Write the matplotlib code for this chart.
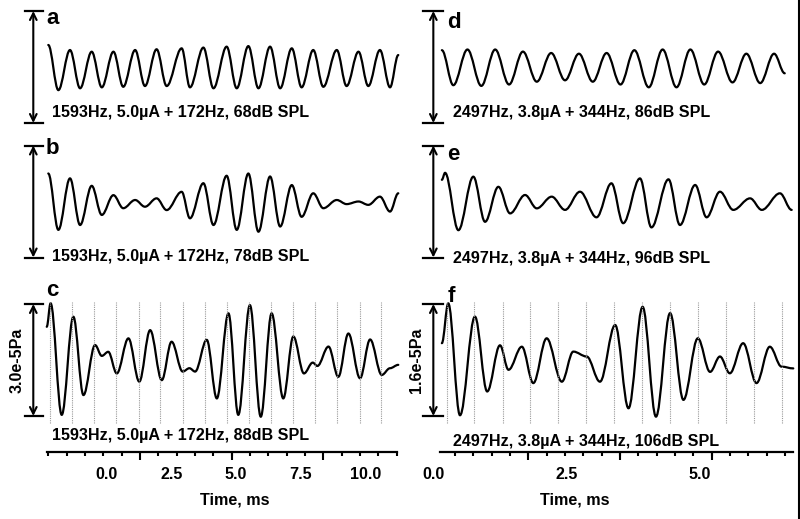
import numpy as np
import matplotlib
matplotlib.use("Agg")
import matplotlib.pyplot as plt
from matplotlib.path import Path
from matplotlib.patches import PathPatch
from matplotlib.lines import Line2D

plt.rcParams["font.family"] = ["Liberation Sans", "DejaVu Sans"]
plt.rcParams["font.weight"] = "bold"

# ---- data: waveform extrema (time in ms, pressure in 1e-5 Pa)
t_ab = [-2.26, -1.87, -1.42, -1.03, -0.58, -0.19, 0.26, 0.64, 1.10, 1.48, 1.93,
        2.32, 2.90, 3.22, 3.74, 4.13, 4.64, 5.03, 5.48, 5.87, 6.32, 6.71, 7.16,
        7.54, 7.99, 8.38, 8.90, 9.28, 9.74, 10.12, 10.57, 10.96, 11.28]
wave_a = [0.59, -0.62, 0.455, -0.57, 0.41, -0.545, 0.41, -0.53, 0.455, -0.51, 0.475,
          -0.51, 0.5, -0.545, 0.52, -0.57, 0.545, -0.57, 0.56, -0.57, 0.545, -0.57,
          0.5, -0.545, 0.455, -0.53, 0.455, -0.51, 0.41, -0.51, 0.455, -0.545, 0.32]
wave_b = [0.75, -0.76, 0.62, -0.63, 0.42, -0.36, 0.17, -0.18, 0.04, -0.14, 0.085,
          -0.23, 0.26, -0.45, 0.49, -0.63, 0.69, -0.76, 0.75, -0.81, 0.67, -0.67,
          0.44, -0.41, 0.22, -0.18, 0.04, -0.07, 0.0, -0.09, 0.13, -0.27, 0.22]
t_c = [-2.32, -2.17, -1.74, -1.29, -0.90, -0.45, -0.19, 0.06, 0.39, 0.84, 1.26,
       1.68, 2.13, 2.51, 2.94, 3.20, 3.42, 3.87, 4.26, 4.71, 5.09, 5.54, 5.96,
       6.38, 6.83, 7.22, 7.63, 7.97, 8.15, 8.58, 8.96, 9.35, 9.80, 10.19, 10.64,
       10.96, 11.28]
wave_c = [0.89, 1.52, -1.47, 1.16, -0.94, 0.40, 0.11, 0.22, -0.36, 0.58, -0.58,
          0.80, -0.54, 0.49, -0.31, -0.22, -0.31, 0.54, -1.03, 1.25, -1.47, 1.47,
          -1.52, 1.25, -1.03, 0.63, -0.36, -0.07, -0.16, 0.36, -0.45, 0.71, -0.49,
          0.55, -0.40, -0.22, -0.13]
t_d = [0.16, 0.375, 0.64, 0.90, 1.16, 1.42, 1.68, 1.94, 2.21, 2.47, 2.73, 2.99,
       3.25, 3.51, 3.77, 4.04, 4.30, 4.56, 4.82, 5.08, 5.34, 5.61, 5.87, 6.13,
       6.39, 6.59]
wave_d = [0.24, -0.26, 0.25, -0.27, 0.25, -0.25, 0.22, -0.21, 0.20, -0.19, 0.19,
          -0.21, 0.20, -0.25, 0.24, -0.29, 0.25, -0.29, 0.25, -0.25, 0.22, -0.22,
          0.19, -0.23, 0.19, -0.09]
t_e = [0.16, 0.22, 0.47, 0.75, 0.97, 1.22, 1.44, 1.72, 1.94, 2.22, 2.47, 2.75,
       3.06, 3.34, 3.56, 3.875, 4.09, 4.41, 4.625, 4.91, 5.125, 5.375, 5.625, 5.94,
       6.16, 6.5, 6.72]
wave_e = [0.31, 0.41, -0.41, 0.355, -0.29, 0.21, -0.17, 0.093, -0.098, 0.069, -0.12,
          0.14, -0.226, 0.26, -0.31, 0.33, -0.37, 0.317, -0.336, 0.236, -0.226, 0.14,
          -0.12, 0.045, -0.12, 0.117, -0.12]
t_f = [0.16, 0.28, 0.5, 0.78, 1.01, 1.25, 1.41, 1.66, 1.875, 2.125, 2.41, 2.625,
       2.875, 3.125, 3.41, 3.66, 3.925, 4.175, 4.44, 4.69, 4.96, 5.19, 5.375, 5.56,
       5.81, 6.06, 6.31, 6.53, 6.75]
wave_f = [0.24, 0.81, -0.79, 0.62, -0.45, 0.21, -0.14, 0.19, -0.33, 0.31, -0.31,
          0.12, 0.05, -0.31, 0.5, -0.69, 0.76, -0.81, 0.67, -0.57, 0.31, -0.17,
          0.05, -0.19, 0.24, -0.33, 0.19, -0.095, -0.12]

# stimulus-period markers in the bottom panels (ms)
grid_c = [-2.19, -1.34, -0.48, 0.37, 1.23, 2.08, 2.94, 3.79, 4.65, 5.50, 6.36,
          7.21, 8.07, 8.92, 9.78, 10.63]
grid_f = [0.25, 0.77, 1.30, 1.82, 2.34, 2.87, 3.39, 3.91, 4.44, 4.96, 5.48, 6.01, 6.53]

labels_left = ["1593Hz, 5.0\u00b5A + 172Hz, 68dB SPL",
               "1593Hz, 5.0\u00b5A + 172Hz, 78dB SPL",
               "1593Hz, 5.0\u00b5A + 172Hz, 88dB SPL"]
labels_right = ["2497Hz, 3.8\u00b5A + 344Hz, 86dB SPL",
                "2497Hz, 3.8\u00b5A + 344Hz, 96dB SPL",
                "2497Hz, 3.8\u00b5A + 344Hz, 106dB SPL"]
xticks_left = [0.0, 2.5, 5.0, 7.5, 10.0]
xticks_right = [0.0, 2.5, 5.0]
scale_left = 3.0   # 3.0e-5 Pa
scale_right = 1.6  # 1.6e-5 Pa

W, H = 800, 519
FS = 11.6
fig = plt.figure(figsize=(W / 100, H / 100), dpi=100)


def wave_patch(t, y, k=0.36):
    verts = [(t[0], y[0])]
    codes = [Path.MOVETO]
    for i in range(1, len(t)):
        dt = t[i] - t[i - 1]
        verts += [(t[i - 1] + k * dt, y[i - 1]), (t[i] - k * dt, y[i]), (t[i], y[i])]
        codes += [Path.CURVE4] * 3
    return PathPatch(Path(verts, codes), fill=False, lw=1.6, ec="black",
                     capstyle="round", joinstyle="round")


def make_panel(x0, x1, y0, y1, xlim, center_px, ppu):
    # axes rect given in pixels, y limits from the pixel scale of the amplitude bar
    ax = fig.add_axes([x0 / W, 1 - y1 / H, (x1 - x0) / W, (y1 - y0) / H])
    ax.set_xlim(*xlim)
    ax.set_ylim((center_px - y1) / ppu, (center_px - y0) / ppu)
    ax.set_axis_off()
    return ax


def scale_bar(ax, xb, cap0, cap1, half):
    ax.annotate("", xy=(xb, half), xytext=(xb, -half),
                arrowprops=dict(arrowstyle="<->", lw=1.5, color="black",
                                shrinkA=0, shrinkB=0, mutation_scale=12))
    for yy in (half, -half):
        ax.plot([cap0, cap1], [yy, yy], color="black", lw=1.6, clip_on=False)


left_xlim = (-4.128, 11.346)
right_xlim = (-0.625, 6.876)
ppu_l = 112 / scale_left
ppu_r = 112 / scale_right

rows = [(0, 130, 67, 113, 19), (130, 270, 201.5, 257, 149), (270, 452, 360, 435, 290)]
waves_left = [(t_ab, wave_a), (t_ab, wave_b), (t_c, wave_c)]
waves_right = [(t_d, wave_d), (t_e, wave_e), (t_f, wave_f)]
letters_left = ["a", "b", "c"]
letters_right = ["d", "e", "f"]
right_text_y = [113, 258, 441]
right_letter_y = [22, 155, 297]

for i, (y0, y1, cen, ty, ly) in enumerate(rows):
    # left column
    ax = make_panel(0, 400, y0, y1, left_xlim, cen, ppu_l)
    ax.add_patch(wave_patch(*waves_left[i]))
    scale_bar(ax, -2.84, -3.16, -2.45, scale_left / 2)
    ax.text(-2.12, (cen - ty) / ppu_l, labels_left[i], fontsize=FS,
            fontweight="bold", ha="left", va="center")
    ax.text(-2.35, (cen - ly) / ppu_l, letters_left[i], fontsize=16,
            fontweight="bold", ha="left", va="center")
    if i == 2:
        axl = ax
    # right column
    ax = make_panel(400, 800, y0, y1, right_xlim, cen, ppu_r)
    ax.add_patch(wave_patch(*waves_right[i]))
    scale_bar(ax, 0.0, -0.19, 0.18, scale_right / 2)
    ax.text(0.37, (cen - right_text_y[i]) / ppu_r, labels_right[i], fontsize=FS,
            fontweight="bold", ha="left", va="center")
    ax.text(0.26, (cen - right_letter_y[i]) / ppu_r, letters_right[i], fontsize=16,
            fontweight="bold", ha="left", va="center")
    if i == 2:
        axr = ax


def bottom_axis(ax, grid, ppu, bounds, minor, major, ticks, scale_text, sx, time_x):
    ax.set_axis_on()
    for s in ("top", "right", "left"):
        ax.spines[s].set_visible(False)
    ax.patch.set_visible(False)
    ax.spines["bottom"].set_linewidth(1.6)
    ax.spines["bottom"].set_bounds(*bounds)
    ax.vlines(grid, -121 / ppu * 0.52, 121 / ppu * 0.48, colors="0.6",
              linestyles=(0, (1, 1)), lw=0.8)
    ax.set_yticks([])
    ax.set_xticks(major)
    ax.set_xticks(minor, minor=True)
    ax.tick_params(axis="x", which="major", length=6, width=1.5, labelbottom=False)
    ax.tick_params(axis="x", which="minor", length=3.2, width=1.5)
    sec = ax.secondary_xaxis("bottom")
    sec.set_xticks(ticks)
    sec.set_xticklabels([f"{v:.1f}" for v in ticks])
    sec.tick_params(length=0, pad=11, labelsize=FS)
    for lab in sec.get_xticklabels():
        lab.set_fontweight("bold")
    sec.spines["bottom"].set_visible(False)
    ax.text(time_x, -0.264, "Time, ms", transform=ax.transAxes, ha="center",
            va="center", fontsize=FS, fontweight="bold")
    ax.text(sx, 0.0, scale_text, rotation=90, ha="center", va="center",
            fontsize=FS, fontweight="bold")


bottom_axis(axl, grid_c, ppu_l, (-2.31, 11.23),
            np.arange(-2.255, 11.3, 0.709), [1.29, 4.84, 8.38], xticks_left,
            "3.0e-5Pa", -3.48, 0.5875)
bottom_axis(axr, grid_f, ppu_r, (0.125, 6.74),
            np.arange(0.408, 6.75, 0.3437), [1.78, 3.50, 5.22], xticks_right,
            "1.6e-5Pa", -0.31, 0.4375)

fig.add_artist(Line2D([0.9985, 0.9985], [0, 1], color="black", lw=1.5,
                      transform=fig.transFigure))

fig.savefig("out.png", dpi=100)
